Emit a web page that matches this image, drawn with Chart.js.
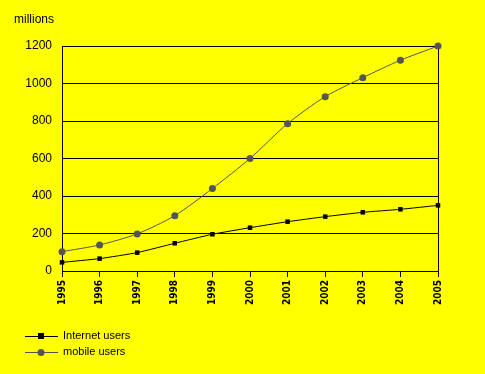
<!DOCTYPE html>
<html>
<head>
<meta charset="utf-8">
<script src="https://cdn.jsdelivr.net/npm/chart.js@4/dist/chart.umd.min.js"></script>
<style>
  html, body { margin: 0; padding: 0; background: #ffff00; }
  #wrap { width: 485px; height: 374px; position: relative; }
</style>
</head>
<body>
<div id="wrap"><canvas id="usersChart" width="485" height="374"></canvas></div>
<script>
// years on the x axis
const years = ['1995', '1996', '1997', '1998', '1999', '2000', '2001', '2002', '2003', '2004', '2005'];
// millions of users
const internetUsers = [46, 66, 98, 148, 196, 231, 263, 290, 313, 329, 350];
const mobileUsers = [103, 139, 198, 295, 440, 600, 786, 930, 1031, 1124, 1200];
const yTicks = [0, 200, 400, 600, 800, 1000, 1200];

const seriesLabels = ['Internet users', 'mobile users'];
const seriesColors = ['#000000', '#555555'];

// "millions" caption and the two-line legend under the axis
const extrasPlugin = {
    id: 'extras',
    afterDraw(chart) {
        const ctx = chart.ctx;
        ctx.save();
        ctx.fillStyle = '#000';
        ctx.font = '12px "Liberation Sans", Arial, sans-serif';
        ctx.textBaseline = 'middle';
        ctx.fillText('millions', 14, 20);

        ctx.font = '11px "Liberation Sans", Arial, sans-serif';
        seriesLabels.forEach((label, i) => {
            const y = 336 + i * 16;
            ctx.strokeStyle = seriesColors[i];
            ctx.lineWidth = 1;
            ctx.beginPath();
            ctx.moveTo(25, y + 0.5);
            ctx.lineTo(58, y + 0.5);
            ctx.stroke();
            ctx.fillStyle = seriesColors[i];
            if (i === 0) {
                ctx.fillRect(38, y - 3, 6, 6);
            } else {
                ctx.beginPath();
                ctx.arc(41, y + 0.5, 3.5, 0, Math.PI * 2);
                ctx.fill();
            }
            ctx.fillStyle = '#000';
            ctx.fillText(label, 63, y);
        });
        ctx.restore();
    }
};

new Chart(document.getElementById('usersChart'), {
    type: 'line',
    data: {
        labels: years,
        datasets: [
            {
                label: seriesLabels[0],
                data: internetUsers,
                borderColor: seriesColors[0],
                backgroundColor: seriesColors[0],
                borderWidth: 1,
                pointStyle: 'rect',
                pointRadius: 3.2,
                pointBorderWidth: 0,
                tension: 0.15,
                clip: false
            },
            {
                label: seriesLabels[1],
                data: mobileUsers,
                borderColor: seriesColors[1],
                backgroundColor: seriesColors[1],
                borderWidth: 1,
                pointStyle: 'circle',
                pointRadius: 3.5,
                pointBorderWidth: 0,
                tension: 0.25,
                clip: false
            }
        ]
    },
    options: {
        responsive: false,
        animation: false,
        layout: { padding: { left: 0, right: 47, top: 46, bottom: 63 } },
        plugins: {
            legend: { display: false },
            tooltip: { enabled: false }
        },
        scales: {
            x: {
                offset: false,
                afterFit: (axis) => { axis.height = 40; },
                grid: { drawOnChartArea: false, color: '#000', tickLength: 6, tickColor: '#000' },
                border: { color: '#000', width: 1 },
                ticks: {
                    color: '#000',
                    minRotation: 90,
                    maxRotation: 90,
                    padding: 3,
                    autoSkip: false,
                    font: { family: '"DejaVu Sans Condensed", "DejaVu Sans", sans-serif', size: 10, weight: 'bold' }
                }
            },
            y: {
                min: 0,
                max: 1200,
                afterFit: (axis) => { axis.width = 62; },
                afterBuildTicks: (axis) => { axis.ticks = yTicks.map(v => ({ value: v })); },
                grid: { color: '#000', drawTicks: false, lineWidth: 1 },
                border: { color: '#000', width: 1 },
                ticks: {
                    color: '#000',
                    padding: 10,
                    callback: (v) => String(v),
                    font: { family: '"Liberation Sans", Arial, sans-serif', size: 12 }
                }
            },
            y2: {
                position: 'right',
                min: 0,
                max: 1200,
                afterFit: (axis) => { axis.width = 0; },
                grid: { display: false },
                border: { color: '#000', width: 1 },
                ticks: { display: false }
            }
        }
    },
    plugins: [extrasPlugin]
});
</script>
</body>
</html>
